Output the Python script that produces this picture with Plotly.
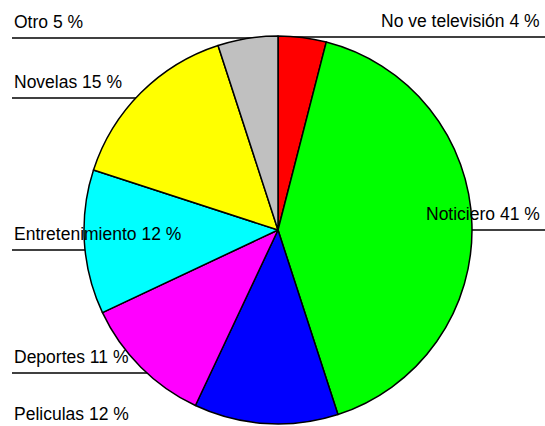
import plotly.graph_objects as go

# Survey: preferred type of TV programme
labels = ["No ve televisión", "Noticiero", "Peliculas", "Deportes",
          "Entretenimiento", "Novelas", "Otro"]
values = [4, 41, 12, 11, 12, 15, 5]
colors = ["#ff0000", "#00ff00", "#0000ff", "#ff00ff",
          "#00ffff", "#ffff00", "#c0c0c0"]

W, H = 545, 426

# label placement (pixels from top-left): x, text centre y, anchor, leader line y, line x-span
label_pos = {
    "No ve televisión": (542, 21, "right", 37, (280, 545)),
    "Noticiero":        (542, 214, "right", 230, (360, 545)),
    "Peliculas":        (12, 414, "left", 431, (12, 200)),
    "Deportes":         (12, 357, "left", 373, (12, 200)),
    "Entretenimiento":  (12, 234, "left", 250, (12, 200)),
    "Novelas":          (12, 82, "left", 98, (12, 200)),
    "Otro":             (12, 22, "left", 38, (12, 280)),
}

cx, cy, r = 278, 230, 194

fig = go.Figure(go.Pie(
    labels=labels,
    values=values,
    sort=False,
    direction="clockwise",
    rotation=0,
    marker=dict(colors=colors, line=dict(color="black", width=1.5)),
    textinfo="none",
    hoverinfo="label+percent",
    showlegend=False,
    domain=dict(x=[(cx - r) / W, (cx + r) / W],
                y=[(H - cy - r) / H, (H - cy + r) / H]),
))

shapes = []
annotations = []
for lab, val in zip(labels, values):
    x, ty, anchor, ly, (x0, x1) = label_pos[lab]
    shapes.append(dict(type="line", xref="paper", yref="paper",
                       x0=x0 / W, x1=x1 / W, y0=1 - ly / H, y1=1 - ly / H,
                       line=dict(color="black", width=1.5), layer="below"))
    annotations.append(dict(text=f"{lab} {val} %", xref="paper", yref="paper",
                            x=x / W, y=1 - ty / H, xanchor=anchor, yanchor="middle",
                            showarrow=False,
                            font=dict(family="Liberation Sans, Arial", size=17.5,
                                      color="black")))

fig.update_layout(
    width=W, height=H,
    margin=dict(l=0, r=0, t=0, b=0),
    paper_bgcolor="white",
    plot_bgcolor="white",
    shapes=shapes,
    annotations=annotations,
)

fig.write_html("out.html")
